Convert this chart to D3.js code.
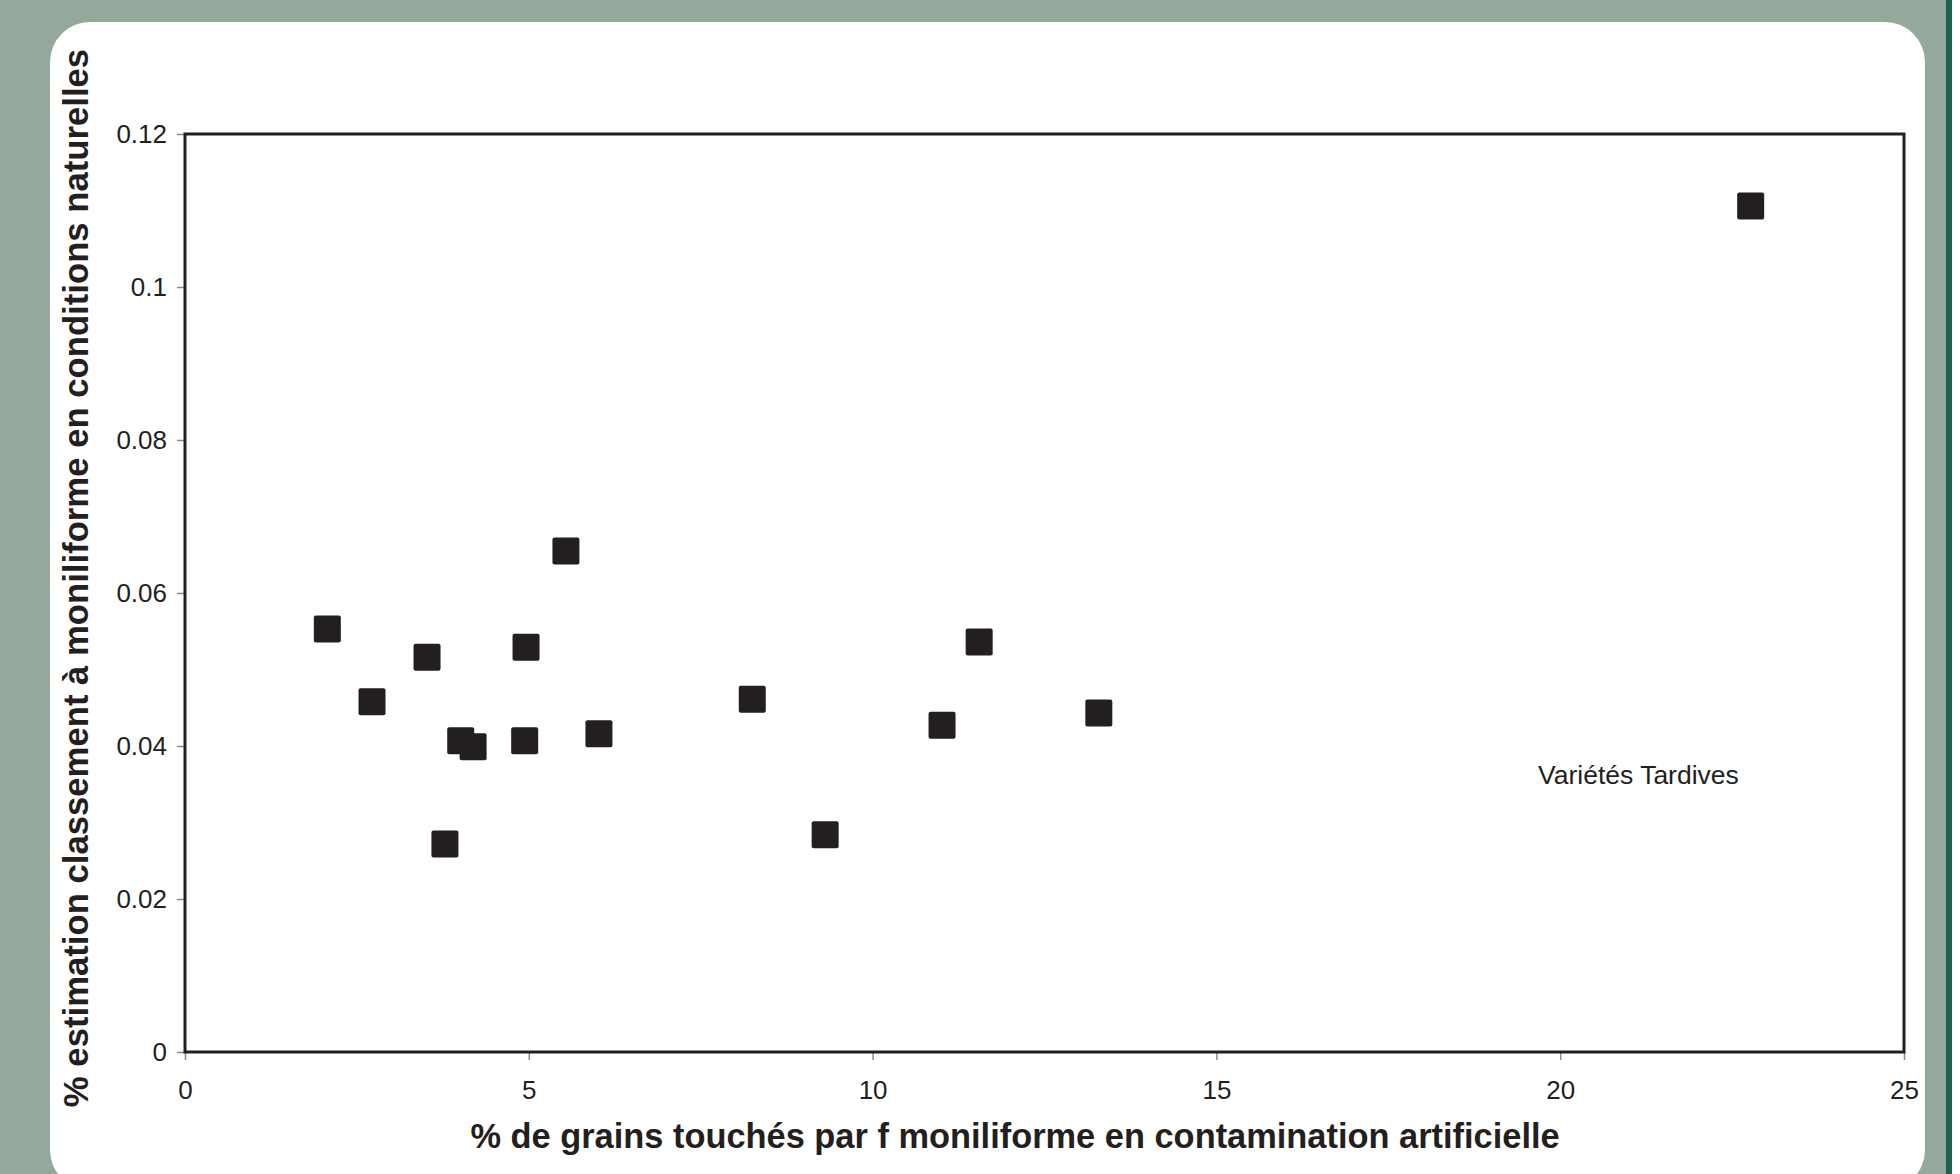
<!DOCTYPE html>
<html>
<head>
<meta charset="utf-8">
<title>Variétés Tardives</title>
<script src="https://d3js.org/d3.v7.min.js"></script>
<style>
	body { margin: 0; background: #fff; }
	svg { display: block; }
	text { font-family: "Liberation Sans", Arial, sans-serif; fill: #231f20; }
</style>
</head>
<body>
<div id="chart"></div>
<script type="text/javascript">

// % de grains touchés (contamination artificielle)
var artificielle = [2.07, 2.72, 3.52, 3.78, 4.01, 4.19, 4.94, 4.96, 5.54, 6.02, 8.25, 9.31, 11.01, 11.55, 13.29, 22.77];
// % estimation classement (conditions naturelles)
var naturelle = [0.0553, 0.0458, 0.0516, 0.0272, 0.0407, 0.0399, 0.0407, 0.0529, 0.0655, 0.0416, 0.0461, 0.0284, 0.0427, 0.0536, 0.0443, 0.1106];

var xTicks = [0, 5, 10, 15, 20, 25];
var yTicks = [0, 0.02, 0.04, 0.06, 0.08, 0.1, 0.12];

var xTitle = "% de grains touchés par f moniliforme en contamination artificielle";
var yTitle = "% estimation classement à moniliforme en conditions naturelles";
var note = "Variétés Tardives";

var width = 1960, height = 1174;
var svg = d3.select("#chart").append("svg").attr("width", width).attr("height", height);

// fond vert + panneau blanc arrondi
svg.append("rect").attr("width", width).attr("height", height).attr("fill", "#95a89c");
svg.append("rect").attr("x", 1946).attr("y", 0).attr("width", 6).attr("height", height).attr("fill", "#1b6350");
svg.append("rect").attr("x", 1952).attr("y", 0).attr("width", 8).attr("height", height).attr("fill", "#ffffff");
svg.append("rect").attr("x", 50).attr("y", 22).attr("width", 1875).attr("height", 1168)
	.attr("rx", 40).attr("ry", 40).attr("fill", "#ffffff");

var pLeft = 185, pRight = 1904, pTop = 134, pBottom = 1052;

var x = d3.scaleLinear().domain([0, 25]).range([pLeft, pRight]);
var y = d3.scaleLinear().domain([0, 0.12]).range([pBottom, pTop]);

var xAxis = svg.append("g").attr("transform", "translate(0," + pBottom + ")")
	.call(d3.axisBottom(x).tickValues(xTicks).tickSize(8).tickPadding(21).tickFormat(d3.format("d")));
var yAxis = svg.append("g").attr("transform", "translate(" + pLeft + ",0)")
	.call(d3.axisLeft(y).tickValues(yTicks).tickSize(8).tickPadding(10).tickFormat(function(d){ return d === 0 ? "0" : String(+d.toFixed(2)); }));

[xAxis, yAxis].forEach(function(a){
	a.select(".domain").remove();
	a.selectAll(".tick line").attr("stroke", "#8a8a8a").attr("stroke-width", 1.5);
	a.selectAll(".tick text").attr("font-size", 26).attr("fill", "#231f20")
		.attr("font-family", "'Liberation Sans', Arial, sans-serif");
});

// cadre du graphique
svg.append("rect").attr("x", pLeft).attr("y", pTop).attr("width", pRight - pLeft).attr("height", pBottom - pTop)
	.attr("fill", "none").attr("stroke", "#231f20").attr("stroke-width", 3);

// points
var size = 27;
svg.selectAll(".pt").data(artificielle).enter().append("rect")
	.attr("class", "pt")
	.attr("x", function(d){ return x(d) - size / 2; })
	.attr("y", function(d, i){ return y(naturelle[i]) - size / 2; })
	.attr("width", size).attr("height", size).attr("rx", 2)
	.attr("fill", "#231f20");

svg.append("text").attr("x", 1538).attr("y", 784).attr("font-size", 26.5).text(note);

svg.append("text").attr("x", 1015).attr("y", 1148).attr("text-anchor", "middle")
	.attr("font-size", 34.4).attr("font-weight", "bold").text(xTitle);

svg.append("text").attr("transform", "translate(88,578) rotate(-90)").attr("text-anchor", "middle")
	.attr("font-size", 34.7).attr("font-weight", "bold").text(yTitle);

</script>
</body>
</html>
